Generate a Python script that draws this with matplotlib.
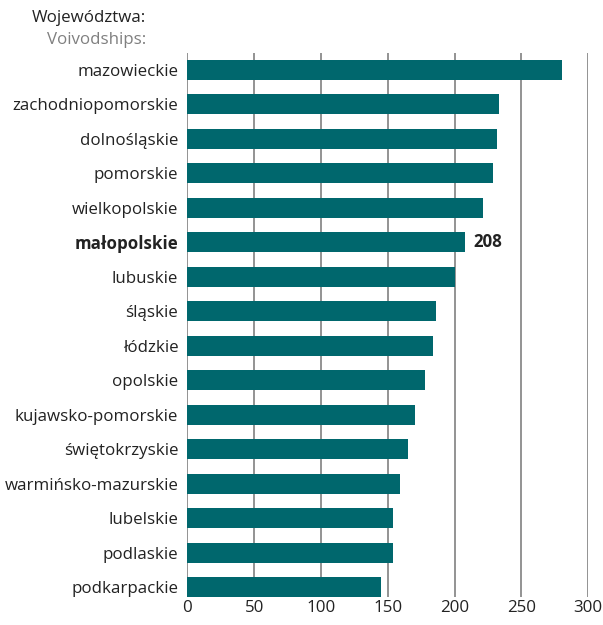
import matplotlib
matplotlib.use("Agg")
import matplotlib.pyplot as plt

regions = ["mazowieckie", "zachodniopomorskie", "dolnośląskie", "pomorskie",
           "wielkopolskie", "małopolskie", "lubuskie", "śląskie", "łódzkie",
           "opolskie", "kujawsko-pomorskie", "świętokrzyskie",
           "warmińsko-mazurskie", "lubelskie", "podlaskie", "podkarpackie"]
values = [280, 233, 232, 229, 221, 208, 200, 186, 184, 178, 170, 165,
          159, 154, 154, 145]
highlight = "małopolskie"
xticks = [0, 50, 100, 150, 200, 250, 300]

plt.rcParams["font.family"] = ["Open Sans", "DejaVu Sans"]

fig = plt.figure(figsize=(6.03, 6.25), dpi=100)
ax = fig.add_axes([187.3 / 603, 28 / 625, 401 / 603, 544 / 625])

bar_color = "#00676d"
grid_color = "#8a8a8a"
text_color = "#222222"
fs = 12.2

ypos = list(range(len(regions)))
ax.barh(ypos, values, height=0.58, color=bar_color, zorder=3)

for x in xticks:
    ax.axvline(x, color=grid_color, lw=1.3, zorder=1)

ax.set_xlim(0, 300)
ax.set_ylim(15.29, -0.49)
ax.set_xticks(xticks)
ax.set_xticklabels([str(t) for t in xticks], fontsize=fs, color=text_color)
ax.tick_params(axis="x", length=0, pad=2)
ax.set_yticks(ypos)
ax.set_yticklabels(regions, fontsize=fs, color=text_color)
ax.tick_params(axis="y", length=0, pad=6.5)
for lbl in ax.get_yticklabels():
    if lbl.get_text() == highlight:
        lbl.set_fontweight("bold")

for spine in ax.spines.values():
    spine.set_visible(False)

hi = regions.index(highlight)
ax.text(values[hi] + 6, hi, str(values[hi]), va="center", ha="left",
        fontsize=fs, fontweight="bold", color=text_color, zorder=4)

fig.text(146 / 603, 1 - 18 / 625, "Województwa:", ha="right", va="center",
         fontsize=fs, color=text_color)
fig.text(146 / 603, 1 - 40 / 625, "Voivodships:", ha="right", va="center",
         fontsize=fs, color="#808080")

fig.savefig("out.png", dpi=100)
